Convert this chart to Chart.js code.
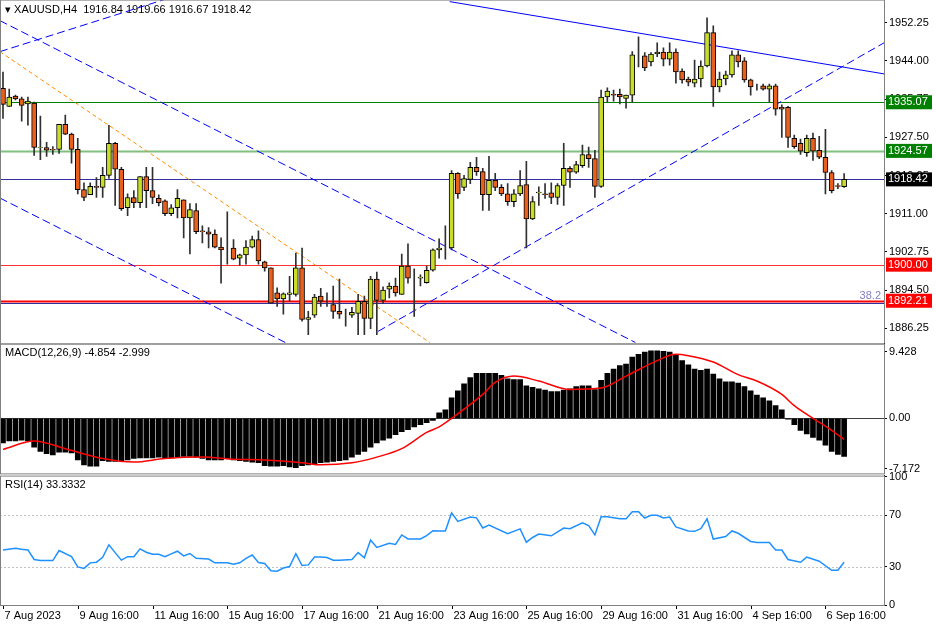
<!DOCTYPE html>
<html><head><meta charset="utf-8">
<script src="https://cdn.jsdelivr.net/npm/chart.js@4/dist/chart.umd.min.js"></script>
<style>
body{margin:0;background:#fff;width:936px;height:624px;overflow:hidden;position:relative;font-family:"Liberation Sans",Arial,sans-serif}
canvas{position:absolute;left:0}
.lbl{position:absolute;font:11px "Liberation Sans",Arial,sans-serif;color:#000;white-space:pre}
</style></head><body>
<canvas id="main" width="936" height="361" style="top:-9px"></canvas>
<canvas id="macd" width="936" height="147" style="top:335px"></canvas>
<canvas id="rsi" width="936" height="157" style="top:467px"></canvas>
<div class="lbl" style="left:5px;top:3px">▾ XAUUSD,H4  1916.84 1919.66 1916.67 1918.42</div>
<div class="lbl" style="left:5px;top:346px">MACD(12,26,9) -4.854 -2.999</div>
<div class="lbl" style="left:5px;top:478px">RSI(14) 33.3332</div>
<script>
const opens=[1938.1,1934.2,1936.4,1935.8,1934.7,1934.9,1925.3,1925.3,1924.9,1924.9,1930.3,1928.2,1924.9,1916.2,1915.1,1916.9,1916.7,1919.3,1926.2,1920.6,1912.3,1914.5,1913.4,1919.0,1916.0,1914.3,1913.8,1911.0,1912.3,1914.0,1910.1,1911.7,1907.3,1907.1,1906.6,1903.8,1903.4,1903.6,1901.4,1902.1,1903.8,1905.4,1900.6,1899.3,1893.9,1892.6,1893.6,1893.6,1899.3,1888.2,1889.1,1893.2,1893.0,1891.4,1889.9,1889.3,1889.1,1889.5,1892.1,1888.4,1896.9,1892.3,1894.7,1895.4,1893.6,1899.7,1897.1,1897.1,1896.1,1898.8,1903.2,1903.6,1903.6,1919.7,1916.7,1918.4,1921.0,1920.1,1915.1,1918.2,1916.7,1915.3,1913.6,1915.3,1917.3,1909.9,1915.5,1915.3,1915.5,1914.5,1917.1,1920.8,1920.0,1921.4,1923.8,1922.9,1916.9,1936.2,1936.8,1936.8,1935.9,1936.6,1945.1,1945.1,1943.8,1945.5,1945.9,1944.4,1945.9,1941.8,1940.1,1939.2,1940.1,1942.9,1950.1,1938.4,1940.1,1941.0,1945.3,1944.0,1939.9,1938.4,1938.6,1937.9,1938.6,1934.0,1934.0,1927.3,1926.2,1924.2,1927.3,1924.7,1923.2,1919.9,1917.1,1916.84];
const highs=[1941.6,1937.9,1936.6,1936.2,1936.2,1935.1,1932.1,1926.4,1925.5,1930.3,1932.3,1928.4,1927.3,1917.7,1917.7,1918.8,1921.0,1930.1,1926.4,1921.0,1915.3,1916.0,1919.0,1921.0,1921.0,1915.1,1914.0,1913.0,1916.2,1914.0,1913.2,1913.2,1908.4,1908.0,1907.5,1905.8,1911.4,1905.4,1902.3,1905.2,1906.2,1907.3,1900.8,1899.3,1895.0,1893.9,1897.5,1902.5,1903.6,1889.9,1893.6,1894.9,1893.9,1895.4,1896.9,1890.4,1890.8,1893.6,1893.2,1897.5,1898.4,1895.2,1896.1,1897.1,1902.3,1904.5,1899.1,1897.8,1899.7,1903.4,1905.6,1908.4,1920.3,1919.9,1919.3,1922.1,1923.2,1920.8,1923.4,1919.7,1917.3,1917.5,1916.2,1920.3,1922.3,1914.7,1916.8,1917.5,1917.7,1917.5,1926.2,1921.2,1922.3,1925.8,1925.4,1924.7,1937.7,1938.2,1937.7,1937.9,1936.6,1946.0,1949.2,1945.8,1945.8,1947.9,1946.8,1947.9,1946.6,1942.3,1940.5,1944.2,1944.0,1953.3,1951.6,1941.6,1941.8,1946.2,1946.2,1944.7,1940.1,1939.0,1939.0,1939.0,1939.0,1934.5,1934.2,1928.0,1927.1,1928.0,1928.4,1927.7,1929.2,1920.3,1917.5,1919.66];
const lows=[1931.6,1934.2,1935.6,1931.0,1930.1,1923.6,1922.7,1923.4,1923.8,1924.0,1928.1,1921.9,1915.3,1913.8,1915.1,1914.5,1914.5,1918.6,1912.8,1911.7,1910.6,1912.3,1912.3,1912.3,1913.2,1912.7,1910.6,1910.6,1910.1,1905.8,1902.3,1906.7,1904.7,1903.6,1903.6,1896.0,1900.1,1901.0,1899.9,1900.1,1903.6,1900.1,1898.6,1891.7,1891.0,1889.3,1892.1,1893.2,1887.8,1884.9,1888.6,1891.0,1891.0,1888.4,1888.4,1886.7,1888.6,1884.9,1884.9,1886.2,1884.9,1891.6,1892.8,1893.2,1893.6,1896.0,1888.8,1895.4,1896.0,1898.6,1901.4,1901.2,1903.2,1914.3,1916.0,1917.5,1919.3,1911.7,1911.7,1916.0,1914.9,1912.8,1912.5,1914.9,1903.6,1909.7,1912.8,1914.3,1913.2,1913.0,1912.8,1916.7,1919.7,1921.0,1921.0,1914.5,1916.7,1935.1,1935.3,1934.7,1933.8,1935.1,1942.7,1941.9,1942.9,1944.9,1942.9,1943.1,1939.2,1939.2,1938.6,1938.4,1938.4,1942.7,1934.2,1937.3,1938.8,1940.5,1942.7,1939.4,1936.6,1937.7,1937.7,1935.1,1932.3,1927.5,1925.3,1925.1,1923.8,1923.4,1922.5,1922.9,1915.3,1915.5,1916.4,1916.67];
const closes=[1934.6,1936.2,1935.8,1934.4,1935.3,1925.3,1925.4,1924.7,1924.8,1930.3,1928.2,1924.9,1916.2,1914.5,1916.9,1916.7,1919.3,1926.2,1920.6,1912.1,1914.5,1913.4,1919.0,1916.0,1914.5,1913.4,1911.0,1912.3,1914.3,1910.1,1911.9,1907.1,1907.1,1906.6,1903.8,1903.2,1903.4,1901.2,1902.1,1903.8,1905.4,1900.8,1899.3,1891.7,1892.6,1893.7,1893.9,1899.3,1888.2,1888.6,1893.0,1892.1,1893.0,1889.9,1889.3,1889.3,1889.7,1892.1,1888.4,1896.9,1892.3,1894.5,1895.4,1893.9,1899.7,1897.1,1897.1,1897.3,1898.8,1903.2,1903.6,1903.6,1919.7,1915.3,1918.6,1921.0,1920.1,1915.1,1918.2,1916.7,1915.3,1913.6,1915.3,1917.1,1909.9,1913.6,1915.7,1915.1,1914.5,1917.1,1920.8,1920.0,1921.6,1923.8,1922.9,1916.9,1936.2,1937.5,1936.6,1936.2,1936.6,1945.3,1945.1,1942.5,1945.5,1945.9,1944.4,1945.9,1941.6,1939.9,1939.4,1940.1,1942.9,1950.1,1938.4,1940.1,1941.0,1945.3,1943.8,1939.9,1938.4,1938.4,1937.9,1938.6,1933.6,1933.6,1927.5,1925.5,1924.5,1927.3,1924.5,1923.2,1919.9,1916.0,1916.9,1918.42];
const macdHist=[-3.5,-3.2,-3.2,-3.1,-3.2,-4.1,-4.7,-5.0,-5.2,-4.8,-4.8,-4.9,-5.9,-6.6,-6.8,-6.8,-6.0,-6.1,-6.1,-6.0,-5.9,-5.7,-5.6,-5.6,-5.6,-5.5,-5.6,-5.6,-5.5,-5.4,-5.4,-5.5,-5.7,-5.9,-5.9,-5.9,-5.7,-5.9,-6.0,-6.1,-6.2,-6.3,-6.7,-6.8,-6.8,-6.7,-6.9,-7.0,-6.7,-6.6,-6.5,-6.3,-6.2,-6.1,-6.0,-5.9,-5.5,-5.1,-4.7,-4.1,-3.5,-3.1,-2.8,-2.3,-1.9,-1.6,-1.2,-0.9,-0.6,-0.3,0.8,1.2,2.9,3.9,4.9,5.8,6.4,6.4,6.4,6.4,6.1,5.6,5.5,5.5,4.6,4.4,4.2,4.0,3.8,3.8,4.0,4.2,4.5,4.6,4.6,4.1,5.4,6.4,7.0,7.5,7.7,8.7,9.1,9.4,9.6,9.6,9.5,9.4,9.0,8.2,7.6,7.0,6.8,7.0,6.3,5.6,5.2,5.2,5.0,4.5,3.9,3.3,2.9,2.5,1.8,1.2,-0.1,-0.9,-1.7,-2.2,-2.7,-3.1,-3.8,-4.7,-5.1,-5.4];
const signalIdx=[0,5,10,16,21,26,32,37,42,48,51,56,60,64,68,70,72,77,79,82,86,91,96,100,105,108,110,114,118,121,125,127,130,133,135];
const signalVal=[-4.4,-3.2,-4.3,-5.7,-6.2,-5.7,-5.5,-5.8,-5.9,-6.3,-6.6,-6.3,-5.5,-4.3,-2.0,-1.2,0,3.4,5.1,6.0,5.3,4.1,4.3,6.0,8.2,9.1,8.9,8.0,6.2,5.3,3.4,1.8,0,-1.7,-3.0];
const rsiIdx=[0,2,3,4,5,6,8,9,11,12,13,14,15,16,17,18,19,20,21,22,23,24,25,26,27,28,29,30,31,33,34,36,37,38,39,40,41,42,43,44,45,46,47,48,49,50,51,52,53,54,56,57,58,59,60,62,63,64,65,67,68,69,70,71,72,73,75,76,77,78,81,83,84,85,86,88,90,91,93,94,95,96,97,99,100,101,102,103,104,105,106,107,108,110,111,112,113,114,116,117,118,120,121,123,124,125,126,128,129,131,133,134,135];
const rsiVal=[43.0,44.3,43.5,43.0,35.5,34.7,34.7,42.5,37.7,29.7,28.6,32.9,33.4,37.2,47.0,40.9,35.0,37.7,37.7,43.8,41.2,39.6,39.6,37.7,39.9,42.0,38.3,40.2,36.4,35.9,32.9,32.9,31.8,32.9,36.4,39.0,33.2,32.4,26.7,26.4,28.9,30.0,40.1,30.8,31.3,37.5,37.5,37.0,35.0,35.0,35.5,40.9,36.9,50.8,44.9,48.1,47.3,54.7,51.6,51.6,54.2,58.0,57.8,57.8,71.9,65.3,68.7,68.0,60.1,62.3,55.6,59.4,49.0,52.7,55.4,54.0,60.1,59.6,64.1,62.0,54.7,68.9,68.9,67.3,67.3,72.8,72.8,67.9,70.0,70.0,67.9,68.7,60.9,57.7,57.5,59.6,67.3,51.5,53.4,57.8,56.0,49.6,48.8,48.8,42.9,42.9,35.5,33.4,37.4,34.2,27.1,27.1,33.3];
const priceTicks=[1952.25,1944.00,1935.75,1927.50,1919.25,1911.00,1902.75,1894.50,1886.25];
const macdTicks=[9.428,0,-7.172];
const rsiTicks=[0,30,70,100];
const dateTickIdx=[0,12,24,36,48,60,72,84,96,108,120,132];
const dateTickLabels=['7 Aug 2023','9 Aug 16:00','11 Aug 16:00','15 Aug 16:00','17 Aug 16:00','21 Aug 16:00','23 Aug 16:00','25 Aug 16:00','29 Aug 16:00','31 Aug 16:00','4 Sep 16:00','6 Sep 16:00'];
const levelVals=[1935.07,1924.57,1918.42,1900.00,1892.21];
const levelColors=['#008000','#80c080','#3030a0','#ff3030','#ff0000'];
const levelBoxColors=['#008000','#008000','#000000','#ff0000','#ff0000'];
const levelWidths=[1,2,1,1,2];
const trendLines=[
 {p:[71.7,1956.8,141.4,1941.2],c:'#0000ff',d:[]},
 {p:[-0.5,1946.0,26.0,1957.3],c:'#0000ff',d:[8,4]},
 {p:[-0.5,1952.7,101.5,1883.2],c:'#0000ff',d:[8,4]},
 {p:[-0.5,1914.4,45.3,1883.2],c:'#0000ff',d:[8,4]},
 {p:[-0.5,1946.0,68.5,1883.2],c:'#ff8c00',d:[4,3]},
 {p:[60.2,1885.6,141.4,1947.9],c:'#0000ff',d:[8,4]}
];
const XMIN=-0.48, XMAX=141.4;
const FONT={family:'"Liberation Sans", Arial, sans-serif',size:11};
const bull=closes.map((c,i)=>c>=opens[i]);
function yAxis(min,max,ticks,fmt){return{position:'right',min,max,
 afterFit:s=>{s.width=52},
 afterBuildTicks:s=>{s.ticks=ticks.map(v=>({value:v}))},
 grid:{drawOnChartArea:false,drawTicks:true,tickLength:3,color:'#000'},
 border:{display:true,color:'#000'},
 ticks:{color:'#000',font:FONT,padding:2,callback:fmt}};}
const xAxis={type:'linear',min:XMIN,max:XMAX,display:false,offset:false};
const frame={id:'frame',afterDraw(c){const a=c.chartArea,x=c.ctx;x.save();x.strokeStyle='#808080';x.lineWidth=1;x.strokeRect(a.left+0.5,a.top+0.5,a.right-a.left,a.bottom-a.top);x.restore();}};
const levels={id:'levels',beforeDatasetsDraw(c){const a=c.chartArea,x=c.ctx,y=c.scales.y;x.save();
 levelVals.forEach((v,i)=>{const p=Math.round(y.getPixelForValue(v))+0.5;x.strokeStyle=levelColors[i];x.lineWidth=levelWidths[i];x.beginPath();x.moveTo(a.left,p);x.lineTo(a.right,p);x.stroke();});
 const pb=Math.round(y.getPixelForValue(1892.0))+1.5;x.strokeStyle='#3030a0';x.lineWidth=1;x.beginPath();x.moveTo(a.left,pb);x.lineTo(a.right,pb);x.stroke();
 x.restore();},
 afterDraw(c){const a=c.chartArea,x=c.ctx,y=c.scales.y;x.save();x.font='11px "Liberation Sans", Arial';x.textBaseline='middle';
 levelVals.forEach((v,i)=>{const p=y.getPixelForValue(v);x.fillStyle=levelBoxColors[i];x.fillRect(a.right+2,p-7,46,14);x.fillStyle='#fff';x.fillText(v.toFixed(2),a.right+4,p);});
 x.fillStyle='#8080c0';x.textAlign='right';x.fillText('38.2',a.right-3,y.getPixelForValue(1893.3));x.restore();}};
const mainDs=[];
trendLines.forEach(t=>mainDs.push({type:'line',data:[{x:t.p[0],y:t.p[1]},{x:t.p[2],y:t.p[3]}],borderColor:t.c,borderWidth:1,borderDash:t.d,pointRadius:0,order:10}));
mainDs.push({type:'bar',grouped:false,order:2,data:closes.map((c,i)=>({x:i,y:[lows[i],highs[i]]})),backgroundColor:'#303030',barThickness:1,borderWidth:0});
mainDs.push({type:'bar',grouped:false,order:1,data:closes.map((c,i)=>({x:i,y:[opens[i],c]})),backgroundColor:bull.map(b=>b?'#c8dc28':'#e8601c'),borderColor:'#000',borderWidth:1,borderSkipped:false,barThickness:5});
new Chart(document.getElementById('main'),{type:'bar',data:{datasets:mainDs},
 options:{responsive:false,animation:false,devicePixelRatio:1,layout:{padding:0},
 plugins:{legend:{display:false},tooltip:{enabled:false}},
 scales:{x:xAxis,y:yAxis(1883.0,1957.24,priceTicks,v=>v.toFixed(2))}},plugins:[levels,frame]});
const zeroLine={id:'zero',beforeDatasetsDraw(c){const a=c.chartArea,x=c.ctx,p=Math.round(c.scales.y.getPixelForValue(0))+0.5;x.save();x.strokeStyle='#404040';x.beginPath();x.moveTo(a.left,p);x.lineTo(a.right,p);x.stroke();x.restore();}};
new Chart(document.getElementById('macd'),{type:'bar',data:{datasets:[
 {type:'bar',grouped:false,order:2,data:macdHist.map((v,i)=>({x:i,y:v})),backgroundColor:'#000',barThickness:5},
 {type:'line',order:1,data:signalIdx.map((k,i)=>({x:k,y:signalVal[i]})),borderColor:'#ff0000',borderWidth:1.5,pointRadius:0,cubicInterpolationMode:'monotone'}]},
 options:{responsive:false,animation:false,devicePixelRatio:1,layout:{padding:{top:2,bottom:0}},
 plugins:{legend:{display:false},tooltip:{enabled:false}},
 scales:{x:xAxis,y:yAxis(-7.81,10.61,macdTicks,v=>v===0?'0.00':String(v))}},plugins:[zeroLine,frame]});
const rsiExtras={id:'rsiX',beforeDatasetsDraw(c){const a=c.chartArea,x=c.ctx,y=c.scales.y;x.save();x.strokeStyle='#c0c0c0';x.setLineDash([2,2]);
 [30,70].forEach(v=>{const p=Math.round(y.getPixelForValue(v))+0.5;x.beginPath();x.moveTo(a.left,p);x.lineTo(a.right,p);x.stroke();});x.restore();},
 afterDraw(c){const a=c.chartArea,x=c.ctx,s=c.scales.x;x.save();x.fillStyle='#000';x.strokeStyle='#000';x.font='11px "Liberation Sans", Arial';x.textBaseline='top';
 dateTickIdx.forEach((k,i)=>{const p=Math.round(s.getPixelForValue(k))+0.5;x.beginPath();x.moveTo(p,a.bottom);x.lineTo(p,a.bottom+4);x.stroke();x.fillText(dateTickLabels[i],p+1,a.bottom+5);});x.restore();}};
new Chart(document.getElementById('rsi'),{type:'line',data:{datasets:[
 {data:rsiIdx.map((k,i)=>({x:k,y:rsiVal[i]})),borderColor:'#1e90ff',borderWidth:1.5,pointRadius:0,tension:0}]},
 options:{responsive:false,animation:false,devicePixelRatio:1,layout:{padding:{top:2,bottom:19}},
 plugins:{legend:{display:false},tooltip:{enabled:false}},
 scales:{x:xAxis,y:yAxis(0,101,rsiTicks,v=>String(v))}},plugins:[rsiExtras,frame]});
</script></body></html>
